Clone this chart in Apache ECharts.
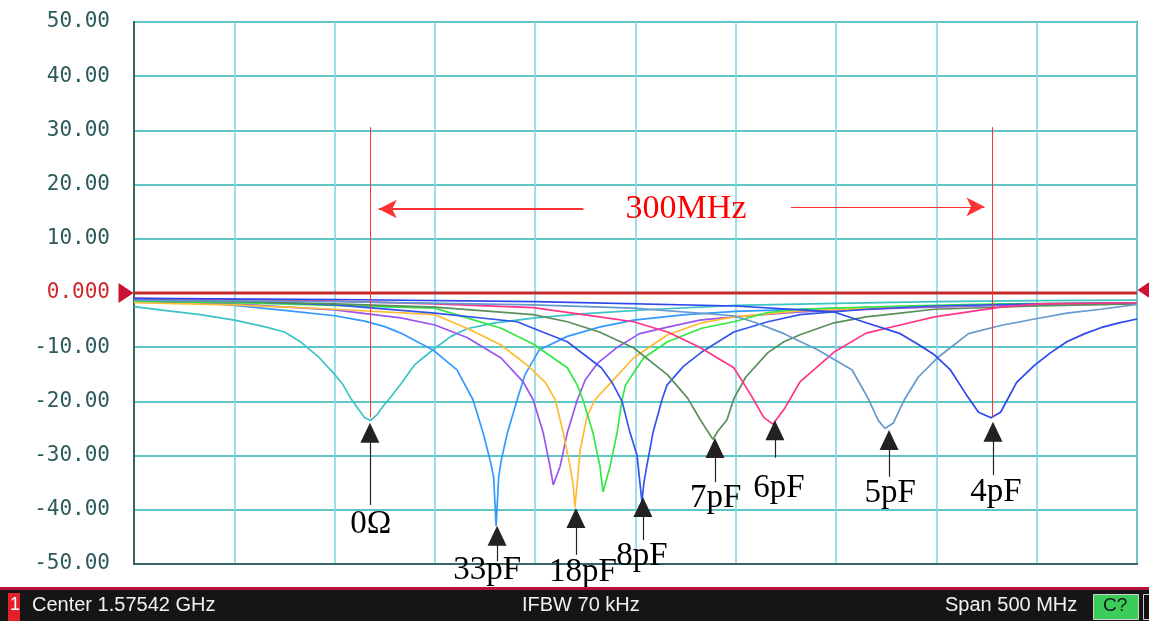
<!DOCTYPE html>
<html>
<head>
<meta charset="utf-8">
<script src="https://cdn.jsdelivr.net/npm/echarts@6/dist/echarts.min.js"></script>
<style>html,body{margin:0;padding:0;background:#fff;}#c{width:1149px;height:621px;}</style>
</head>
<body>
<div id="c"></div>
<script>
// x = frequency offset from start (MHz), start 1325.42 MHz, span 500 MHz
var yTicks = [-50, -40, -30, -20, -10, 0, 10, 20, 30, 40, 50];

var c0Ohm = [[0,-2.5],[15,-3.2],[33,-4],[50,-5],[65,-6.2],[75,-7.2],[83,-9],[92,-11.8],[99,-14.6],[104,-16.8],[108,-19.4],[112,-21.5],[115,-23],[118,-23.5],[121,-22.5],[125,-20.5],[128,-19.2],[133,-16.8],[140,-13.2],[150,-10.2],[158,-8],[166,-6.6],[180,-5.5],[200,-4.6],[225,-3.8],[260,-3],[300,-2.3],[350,-1.9],[400,-1.6],[450,-1.4],[500,-1.3]];
var c33pF = [[0,-1.3],[25,-1.6],[50,-2.3],[75,-3.2],[100,-4.2],[115,-5.2],[125,-6.2],[133,-7.4],[149,-10.5],[161,-14.2],[169,-19.7],[174,-25.8],[177.5,-30.8],[179.3,-34],[180.5,-43],[181.8,-34],[183,-31],[186,-26],[191,-19.7],[195,-15],[202,-10.5],[216,-8],[232,-6.3],[249,-5],[275,-4],[300,-3.4],[350,-2.8],[400,-2.4],[450,-2.1],[500,-1.9]];
var c22pF = [[0,-1.5],[50,-2],[100,-3.1],[133,-4.6],[150,-5.9],[166,-8.2],[183,-12],[194,-16.4],[199,-19.7],[204,-25.8],[207.4,-32],[209,-35.4],[212.4,-32],[216,-25.8],[221,-19.7],[225,-16],[231,-13],[241,-10],[252,-7.5],[266,-6.3],[282,-5],[299,-4.4],[332,-3.5],[382,-2.8],[432,-2.3],[500,-2]];
var c18pF = [[0,-1.8],[50,-2.2],[100,-3],[150,-4],[166,-6.5],[183,-9.6],[196,-13.3],[205,-16.5],[210,-19.7],[214,-25.8],[217.4,-32],[219,-35.7],[219.8,-39.5],[220.8,-35.7],[222.4,-29],[225.8,-22.8],[229.8,-19.7],[237.8,-16.5],[249,-12],[266,-7.7],[283,-5.5],[299,-4.4],[332,-3.3],[382,-2.6],[432,-2.1],[500,-1.9]];
var c10pF = [[0,-1.5],[50,-1.8],[100,-2.3],[150,-2.8],[166,-4.6],[183,-6.5],[199,-9.4],[216,-13.8],[221,-17],[223.8,-19.7],[228.8,-25.8],[232.3,-32],[233.8,-36.7],[237.3,-32],[240.8,-25.8],[243.3,-19.7],[245,-17],[254,-12],[266,-9],[283,-6.5],[299,-5.3],[316,-3.6],[332,-3],[382,-2.4],[432,-2],[500,-1.8]];
var c8pF = [[0,-1.2],[50,-1.5],[100,-2.2],[150,-3.7],[191,-5.3],[199,-6.5],[216,-9],[233,-13.8],[238.3,-16.5],[243.3,-20],[247.3,-25.8],[250.8,-30],[252.2,-35],[253.2,-38.5],[254.2,-35],[255.6,-32],[258.7,-25.8],[263.2,-19.7],[265.7,-17],[274,-13.5],[283,-10.9],[299,-7.2],[316,-5.3],[332,-4],[365,-3],[399,-2.4],[450,-2],[500,-1.8]];
var c7pF = [[0,-1.3],[50,-1.6],[100,-2],[150,-2.6],[199,-4],[216,-5.3],[232,-7.2],[249,-10.1],[266,-15.1],[276,-19.4],[282,-23.2],[286,-25.5],[288.6,-27],[291,-25.5],[295.6,-23.4],[299,-19.5],[305,-15.5],[316,-11],[324,-9],[332,-7.7],[349,-5.5],[365,-4.4],[382,-3.7],[399,-3],[450,-2.4],[500,-2]];
var c6pF = [[0,-1],[50,-1.2],[100,-1.5],[150,-2],[199,-2.7],[232,-4.4],[249,-5.3],[266,-7.2],[282,-10],[299,-13.8],[307.5,-18.8],[314,-23],[318.5,-24.2],[324.5,-21.2],[332,-16.4],[349,-10.9],[365,-7.4],[382,-5.9],[399,-4.4],[432,-2.6],[452,-2],[500,-1.8]];
var c5pF = [[0,-1.3],[100,-1.6],[199,-2.2],[249,-2.8],[299,-4.2],[310,-5.5],[324,-7.5],[341,-10.5],[358,-14.2],[366,-19.5],[371,-23.5],[374.4,-25],[378.5,-24],[384,-19.7],[391,-15.5],[401,-11.8],[416,-7.5],[432,-6],[449,-4.8],[465,-3.7],[482,-3],[500,-2.1]];
var c4pF = [[0,-1],[100,-1.2],[200,-1.6],[300,-2.4],[349,-3.5],[365,-5.5],[382,-7.5],[391,-9.5],[399,-11.4],[407,-14.2],[415,-18.8],[421,-22],[427.2,-23],[432,-22],[440,-16.5],[449,-13.3],[457,-11],[465,-9],[474,-7.5],[482,-6.4],[490,-5.6],[500,-4.8]];

var curveNames = ['0Ω', '33pF', '22pF', '18pF', '10pF', '8pF', '7pF', '6pF', '5pF', '4pF'];
var curveData = [c0Ohm, c33pF, c22pF, c18pF, c10pF, c8pF, c7pF, c6pF, c5pF, c4pF];
var curveColors = ['#3cc4c4', '#3399ff', '#9955ee', '#ffbb33', '#33e844', '#3355ee', '#5a8f5a', '#ff3388', '#6699cc', '#2b48ee'];

// annotation arrows: label, x (MHz), arrow-head centre (dB), tail end (dB), label x, label y
var annotNames = ['0Ω', '33pF', '18pF', '8pF', '7pF', '6pF', '5pF', '4pF'];
var annotX = [117.6, 181, 220.3, 253.7, 289.6, 319.5, 376.4, 428.2];
var annotHead = [-25.8, -44.8, -41.5, -39.5, -28.6, -25.3, -27.1, -25.6];
var annotTail = [-39.1, -49.5, -48.3, -45.6, -34.9, -30.4, -33.9, -33.6];
var annotLabelX = [118, 176, 223.8, 253.2, 290, 321.5, 376.9, 429.7];
var annotLabelY = [-42.6, -51.2, -51.5, -48.6, -37.8, -36, -36.9, -36.7];

var spanMarkX = [118, 428];
var spanMarkTop = 30.6, spanMarkBottom = -23;
var spanArrowY = 15.5;
var spanText = '300MHz';
var spanTextX = 275.2;

var series = [];
series.push({
  type: 'line', name: 'ref', data: [[0, 0], [500, 0]], showSymbol: false, silent: true, z: 3,
  lineStyle: {color: '#c42a2a', width: 3},
  markPoint: {
    silent: true,
    data: [
      {coord: [0, 0], symbol: 'triangle', symbolSize: [20, 15], symbolRotate: -90, symbolOffset: [-8, 0], itemStyle: {color: '#cc1133'}, label: {show: false}},
      {coord: [500, 0], symbol: 'triangle', symbolSize: [20, 15], symbolRotate: 90, symbolOffset: [8, -3], itemStyle: {color: '#cc1133'}, label: {show: false}}
    ]
  },
  clip: false
});
curveData.forEach(function (d, i) {
  series.push({
    type: 'line', name: curveNames[i], data: d, showSymbol: false, smooth: false,
    lineStyle: {color: curveColors[i], width: 1.7}, z: 4
  });
});
var arrowLines = annotX.map(function (x, i) {
  return [
    {coord: [x, annotTail[i]], symbol: 'none'},
    {coord: [x, annotHead[i]], symbol: 'triangle', symbolSize: [19, 20]}
  ];
});
series.push({
  type: 'scatter', name: 'annot', data: [], clip: false, silent: true, z: 6,
  markLine: {
    silent: true, animation: false,
    lineStyle: {color: '#222', width: 1.2, type: 'solid'},
    itemStyle: {color: '#000'},
    label: {show: false},
    data: arrowLines
  }
});
series.push({
  type: 'scatter', name: 'span', data: [], clip: false, silent: true, z: 5,
  markLine: {
    silent: true, animation: false, label: {show: false},
    data: [
      [{coord: [spanMarkX[0], spanMarkTop], symbol: 'none'}, {coord: [spanMarkX[0], spanMarkBottom], symbol: 'none'}],
      [{coord: [spanMarkX[1], spanMarkTop], symbol: 'none'}, {coord: [spanMarkX[1], spanMarkBottom], symbol: 'none'}],
      [{coord: [spanMarkX[0] + 4, spanArrowY], symbol: 'arrow', symbolSize: [14, 18]}, {coord: [224, spanArrowY], symbol: 'none', lineStyle: {width: 2}}],
      [{coord: [327.5, spanArrowY + 0.4], symbol: 'none'}, {coord: [spanMarkX[1] - 4, spanArrowY + 0.4], symbol: 'arrow', symbolSize: [14, 18]}]
    ],
    lineStyle: {color: '#ff3333', width: 1, type: 'solid'},
    itemStyle: {color: '#ff1111'}
  }
});
series.push({
  type: 'scatter', name: 'labels', clip: false, silent: true, z: 7, symbolSize: 0,
  itemStyle: {color: 'rgba(0,0,0,0)'},
  labelLayout: {hideOverlap: false},
  label: {show: true, position: 'inside', formatter: '{b}', color: '#000', textBorderWidth: 0, opacity: 1, fontFamily: 'Liberation Serif', fontSize: 33},
  data: annotNames.map(function (n, i) { return {name: n, value: [annotLabelX[i], annotLabelY[i]]}; }).concat([
    {name: spanText, value: [spanTextX, spanArrowY], label: {color: '#ff0000', fontSize: 34}}
  ])
});

var chart = echarts.init(document.getElementById('c'));
chart.setOption({
  animation: false,
  backgroundColor: '#ffffff',
  grid: {left: 134, top: 22, right: 12, bottom: 57, show: true, borderColor: '#3a6464', borderWidth: 2, backgroundColor: 'transparent'},
  xAxis: {
    type: 'value', min: 0, max: 500, interval: 50,
    axisLabel: {show: false}, axisTick: {show: false},
    axisLine: {show: true, onZero: false, lineStyle: {color: '#3a6464', width: 2}},
    splitLine: {show: true, lineStyle: {color: '#86d6e6', width: 1.6}}
  },
  yAxis: {
    type: 'value', min: yTicks[0], max: yTicks[yTicks.length - 1], interval: 10,
    axisTick: {show: false},
    axisLine: {show: true, lineStyle: {color: '#3a6464', width: 2}},
    splitLine: {show: true, lineStyle: {color: '#5ec6c6', width: 2}},
    axisLabel: {
      margin: 24, fontFamily: 'DejaVu Sans Mono', fontSize: 21,
      color: function (v) { return Number(v) === 0 ? '#cc2a2a' : '#2d5a5a'; },
      formatter: function (v) { return v === 0 ? '0.000' : v.toFixed(2); }
    }
  },
  graphic: [
    {type: 'rect', left: 0, top: 588, shape: {width: 1149, height: 33}, style: {fill: '#151515'}, z: 10},
    {type: 'rect', left: 0, top: 587, shape: {width: 1149, height: 3}, style: {fill: '#b3123a'}, z: 11},
    {type: 'rect', left: 8, top: 593, shape: {width: 12, height: 28}, style: {fill: '#e5202a'}, z: 11},
    {type: 'text', left: 10, top: 596, style: {text: '1', fill: '#fff', font: '18px "Liberation Sans"'}, z: 12},
    {type: 'text', left: 32, top: 595, style: {text: 'Center 1.57542 GHz', fill: '#f0f0f0', font: '20px "Liberation Sans"'}, z: 12},
    {type: 'text', left: 522, top: 595, style: {text: 'IFBW 70 kHz', fill: '#f0f0f0', font: '20px "Liberation Sans"'}, z: 12},
    {type: 'text', left: 945, top: 595, style: {text: 'Span 500 MHz', fill: '#f0f0f0', font: '20px "Liberation Sans"'}, z: 12},
    {type: 'rect', left: 1093, top: 594, shape: {width: 45, height: 25}, style: {fill: '#3ccc5a', stroke: '#cfcfcf', lineWidth: 1}, z: 11},
    {type: 'text', left: 1103, top: 596, style: {text: 'C?', fill: '#1a1a1a', font: '19px "Liberation Sans"'}, z: 12},
    {type: 'rect', left: 1143, top: 594, shape: {width: 8, height: 25}, style: {fill: '#111', stroke: '#ccc', lineWidth: 1}, z: 11}
  ],
  series: series
});
</script>
</body>
</html>
